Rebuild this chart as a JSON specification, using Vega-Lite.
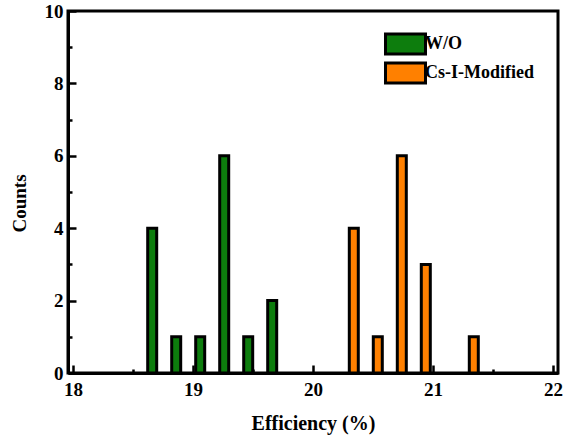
{
  "$schema": "https://vega.github.io/schema/vega-lite/v6.json",
  "width": 490,
  "height": 362,
  "autosize": {"type": "none"},
  "padding": {"left": 68, "top": 11, "right": 10, "bottom": 65},
  "background": "white",
  "config": {"view": {"stroke": "black", "strokeWidth": 3}, "font": "Liberation Serif"},
  "data": {
    "values": [
      {"efficiency": 18.66, "count": 4, "group": "W/O"},
      {"efficiency": 18.86, "count": 1, "group": "W/O"},
      {"efficiency": 19.06, "count": 1, "group": "W/O"},
      {"efficiency": 19.26, "count": 6, "group": "W/O"},
      {"efficiency": 19.46, "count": 1, "group": "W/O"},
      {"efficiency": 19.66, "count": 2, "group": "W/O"},
      {"efficiency": 20.34, "count": 4, "group": "Cs-I-Modified"},
      {"efficiency": 20.54, "count": 1, "group": "Cs-I-Modified"},
      {"efficiency": 20.74, "count": 6, "group": "Cs-I-Modified"},
      {"efficiency": 20.94, "count": 3, "group": "Cs-I-Modified"},
      {"efficiency": 21.34, "count": 1, "group": "Cs-I-Modified"}
    ]
  },
  "mark": {"type": "bar", "size": 9, "stroke": "black", "strokeWidth": 3},
  "encoding": {
    "x": {
      "field": "efficiency",
      "type": "quantitative",
      "scale": {"domain": [18, 22], "nice": false},
      "axis": {
        "title": "Efficiency (%)",
        "values": [18, 18.5, 19, 19.5, 20, 20.5, 21, 21.5, 22],
        "labelExpr": "datum.value % 1 === 0 ? format(datum.value, 'd') : ''",
        "tickSize": {"condition": {"test": "datum.value % 1 !== 0", "value": -4}, "value": -8},
        "tickWidth": 2.5,
        "tickColor": "black",
        "domainColor": "black",
        "domainWidth": 3,
        "grid": false,
        "labelOverlap": false,
        "labelFlush": false,
        "labelFont": "Liberation Serif",
        "labelFontWeight": "bold",
        "labelFontSize": 19,
        "labelColor": "black",
        "labelPadding": 15,
        "titleFont": "Liberation Serif",
        "titleFontWeight": "bold",
        "titleFontSize": 20,
        "titleColor": "black",
        "titlePadding": 10
      }
    },
    "y": {
      "field": "count",
      "type": "quantitative",
      "scale": {"domain": [0, 10], "nice": false},
      "axis": {
        "title": "Counts",
        "values": [0, 1, 2, 3, 4, 5, 6, 7, 8, 9, 10],
        "labelExpr": "datum.value % 2 === 0 ? format(datum.value, 'd') : ''",
        "tickSize": {"condition": {"test": "datum.value % 2 !== 0", "value": -4}, "value": -8},
        "tickWidth": 2.5,
        "tickColor": "black",
        "domainColor": "black",
        "domainWidth": 3,
        "grid": false,
        "labelOverlap": false,
        "labelFlush": false,
        "labelFont": "Liberation Serif",
        "labelFontWeight": "bold",
        "labelFontSize": 19,
        "labelColor": "black",
        "labelPadding": 13,
        "titleFont": "Liberation Serif",
        "titleFontWeight": "bold",
        "titleFontSize": 19,
        "titleColor": "black",
        "titlePadding": 15,
        "titleY": 192
      }
    },
    "color": {
      "field": "group",
      "type": "nominal",
      "scale": {"domain": ["W/O", "Cs-I-Modified"], "range": ["#0d7d0d", "#ff8000"]},
      "legend": {
        "orient": "none",
        "legendX": 326,
        "legendY": 21.5,
        "title": null,
        "padding": 0,
        "gridAlign": "none",
        "symbolType": "M-2,-1H2V1H-2Z",
        "symbolSize": 400,
        "symbolStrokeColor": "black",
        "symbolStrokeWidth": 3,
        "symbolOpacity": 1,
        "labelFont": "Liberation Serif",
        "labelFontWeight": "bold",
        "labelFontSize": 18,
        "labelBaseline": "middle",
        "labelColor": "black",
        "labelOffset": 8,
        "rowPadding": -4
      }
    }
  }
}
